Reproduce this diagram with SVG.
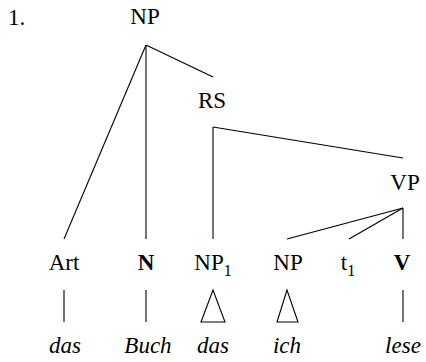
<svg xmlns="http://www.w3.org/2000/svg" width="426" height="362" viewBox="0 0 426 362">
<style>
.t{font-family:'Liberation Serif',serif;font-size:23px;fill:#000;text-anchor:middle}
.it{font-style:italic}
.b{font-weight:bold}
.sub{font-size:16px}
.ln{stroke:#000;stroke-width:1.1;fill:none}
</style>
<rect width="426" height="362" fill="#fff"/>
<text class="t" x="8" y="25" style="text-anchor:start">1.</text>
<g id="np-root"><text class="t" x="145" y="24">NP</text></g>
<g id="rs"><text class="t" x="212" y="108">RS</text></g>
<g id="vp"><text class="t" x="405" y="190">VP</text></g>
<g id="art"><text class="t" x="64" y="270">Art</text></g>
<g id="n"><text class="t b" x="146" y="270">N</text></g>
<g id="np1"><text class="t" x="213" y="270">NP<tspan class="sub" dy="6">1</tspan></text></g>
<g id="np2"><text class="t" x="288" y="270">NP</text></g>
<g id="t1"><text class="t" x="348" y="270">t<tspan class="sub" dy="6">1</tspan></text></g>
<g id="v"><text class="t b" x="402" y="270">V</text></g>
<g id="w-das1"><text class="t it" x="65" y="353">das</text></g>
<g id="w-buch"><text class="t it" x="148" y="353">Buch</text></g>
<g id="w-das2"><text class="t it" x="213" y="353">das</text></g>
<g id="w-ich"><text class="t it" x="287" y="353">ich</text></g>
<g id="w-lese"><text class="t it" x="403" y="353">lese</text></g>
<g id="connectors" class="ln">
<line x1="146" y1="45" x2="64" y2="239"/>
<line x1="146" y1="45" x2="146" y2="239"/>
<line x1="146" y1="45" x2="213" y2="77"/>
<line x1="213" y1="127" x2="213" y2="239"/>
<line x1="213" y1="127" x2="403" y2="158"/>
<line x1="403" y1="208" x2="287" y2="239"/>
<line x1="403" y1="208" x2="349" y2="239"/>
<line x1="403" y1="208" x2="403" y2="239"/>
<line x1="64" y1="290" x2="64" y2="322"/>
<line x1="146" y1="290" x2="146" y2="322"/>
<line x1="403" y1="290" x2="403" y2="322"/>
<polygon points="213,290 201,322 225,322"/>
<polygon points="287,290 277,322 298,322"/>
</g>
</svg>
